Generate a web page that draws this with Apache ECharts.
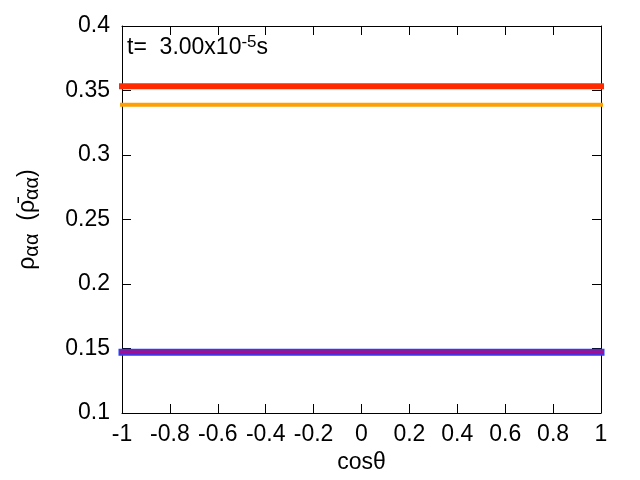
<!DOCTYPE html>
<html>
<head>
<meta charset="utf-8">
<script src="https://cdn.jsdelivr.net/npm/echarts@6/dist/echarts.min.js"></script>
<style>
  html, body { margin: 0; padding: 0; background: #fff; }
  #chart { width: 640px; height: 480px; }
</style>
</head>
<body>
<div id="chart"></div>
<script>
// x positions (cos theta) and flat rho values
const cosTheta = [-1, 0, 1];
const rhoRed = [0.3533, 0.3533, 0.3533];
const rhoOrange = [0.3390, 0.3390, 0.3390];
const rhoBlue = [0.1470, 0.1470, 0.1470];
const rhoPurple = [0.1470, 0.1470, 0.1470];

const font = 'Liberation Sans';

function pairs(ys) {
  return cosTheta.map((x, i) => [x, ys[i]]);
}

function lineSeries(name, ys, color, width) {
  return {
    name: name,
    type: 'line',
    data: pairs(ys),
    showSymbol: false,
    clip: false,
    lineStyle: { color: color, width: width, cap: 'square' },
    z: 2
  };
}

const chart = echarts.init(document.getElementById('chart'));

const boxAxis = {
  axisLine: { show: true, onZero: false, lineStyle: { color: '#000', width: 1 } },
  axisTick: { show: true, inside: true, length: 9, lineStyle: { color: '#000' } },
  splitLine: { show: false }
};

chart.setOption({
  animation: false,
  grid: { left: 122, right: 39, top: 26, bottom: 67 },
  xAxis: [
    Object.assign({
      type: 'value', min: -1, max: 1, interval: 0.2,
      name: 'cosθ', nameLocation: 'middle', nameGap: 32,
      nameTextStyle: { fontFamily: font, fontSize: 23, color: '#000' },
      axisLabel: {
        fontFamily: font, fontSize: 23, color: '#000', margin: 10,
        formatter: v => String(Math.round(v * 10) / 10)
      }
    }, boxAxis),
    Object.assign({
      type: 'value', min: -1, max: 1, interval: 0.2, position: 'top',
      axisLabel: { show: false }
    }, boxAxis)
  ],
  yAxis: [
    Object.assign({
      type: 'value', min: 0.1, max: 0.4, interval: 0.05,
      name: '{r|ρ}{s|αα}{r|  (ρ̄}{s|αα}{r|)}', nameLocation: 'middle', nameGap: 80,
      nameRotate: 90,
      nameTextStyle: {
        fontFamily: font, fontSize: 23, color: '#000',
        rich: {
          r: { fontFamily: font, fontSize: 23, color: '#000' },
          s: { fontFamily: font, fontSize: 20, color: '#000', padding: [8, 0, 0, 0] }
        }
      },
      axisLabel: {
        fontFamily: font, fontSize: 23, color: '#000', margin: 12,
        formatter: v => String(Math.round(v * 100) / 100)
      }
    }, boxAxis),
    Object.assign({
      type: 'value', min: 0.1, max: 0.4, interval: 0.05, position: 'right',
      axisLabel: { show: false }
    }, boxAxis)
  ],
  graphic: [{
    type: 'text',
    left: 127, top: 34,
    style: {
      text: '{n|t=  3.00x10}{p|-5}{n|s}',
      rich: {
        n: { fontFamily: font, fontSize: 23, fill: '#000' },
        p: { fontFamily: font, fontSize: 17, fill: '#000', padding: [0, 0, 11, 0] }
      }
    }
  }],
  series: [
    lineSeries('red', rhoRed, '#ff2a00', 6),
    lineSeries('orange', rhoOrange, '#ff9f00', 4),
    lineSeries('blue', rhoBlue, '#2040ff', 7),
    lineSeries('purple', rhoPurple, '#a0108e', 4)
  ]
});
</script>
</body>
</html>
